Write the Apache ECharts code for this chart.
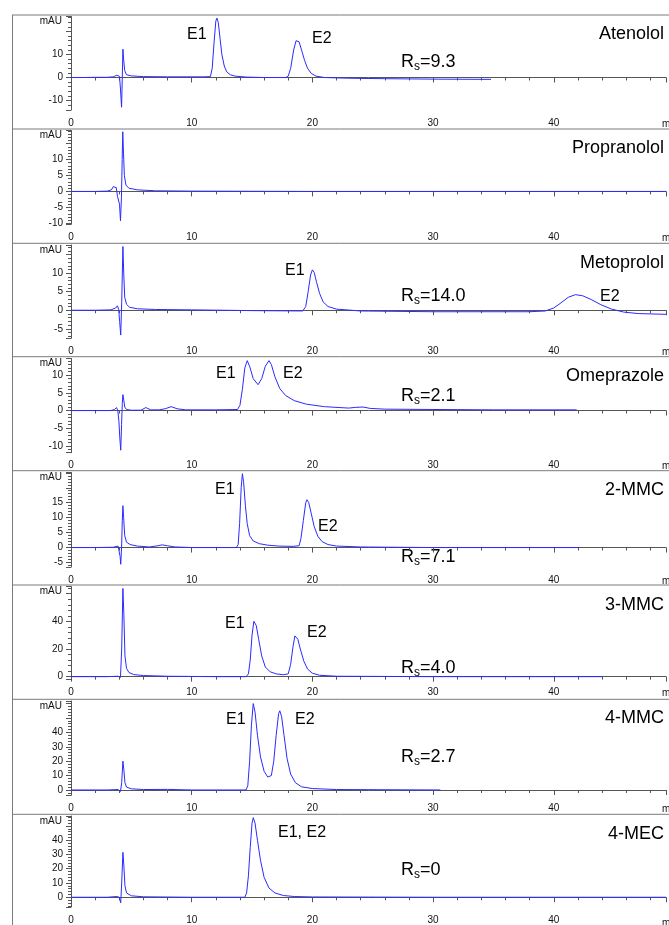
<!DOCTYPE html>
<html><head><meta charset="utf-8">
<script src="https://cdn.jsdelivr.net/npm/echarts@6/dist/echarts.min.js"></script>
<style>html,body{margin:0;padding:0;background:#fff}#c{width:669px;height:925px}</style>
</head><body><div id="c"></div>
<script>
// ---------------- data ----------------
const compounds = ['Atenolol','Propranolol','Metoprolol','Omeprazole','2-MMC','3-MMC','4-MMC','4-MEC'];
const resolutions = ['9.3', null, '14.0', '2.1', '7.1', '4.0', '2.7', '0'];
const xTickLabels = [0, 10, 20, 30, 40];
const yTickLabels = [
  [-10, 0, 10],
  [-10, -5, 0, 5, 10],
  [-5, 0, 5, 10],
  [-10, -5, 0, 5, 10],
  [-5, 0, 5, 10, 15],
  [0, 20, 40],
  [0, 10, 20, 30, 40],
  [0, 10, 20, 30, 40]
];
const atenolol = [[0,0],[1,0],[2,0.1],[3,0.1],[3.5,0.3],[3.8,1],[3.92,1.6],[4.02,0.5],[4.1,-5],[4.19,-12.9],[4.25,0],[4.3,12.3],[4.36,8],[4.45,3],[4.6,1.2],[5,0.7],[6,0.4],[8,0.3],[11,0.3],[11.55,0.4],[11.7,4],[11.85,15],[12.0,24.5],[12.09,25.8],[12.2,24],[12.35,17],[12.5,10],[12.7,5],[12.9,2.5],[13.2,1.2],[13.6,0.6],[14.5,0.2],[16,0],[17.8,0],[18.0,0.6],[18.2,4],[18.45,12],[18.65,16],[18.75,16.4],[18.9,15.5],[19.1,12],[19.35,7.5],[19.6,4],[19.9,1.8],[20.3,0.6],[21,0],[23,-0.3],[26,-0.5],[30,-0.7],[34.8,-0.8]];
const propranolol = [[0,0],[2,0],[3,0.1],[3.35,0.5],[3.5,1.5],[3.63,1.8],[3.75,1.2],[3.85,-1.5],[3.95,-3],[4.02,-4],[4.1,-9.2],[4.18,-2],[4.24,10],[4.29,18.7],[4.35,12],[4.42,5],[4.55,2],[4.8,1],[5.5,0.5],[7,0.2],[10,0.1],[20,0],[30,0],[40,0],[49.3,0]];
const metoprolol = [[0,0],[2,0],[3.3,0.1],[3.7,0.6],[3.85,1.2],[3.95,0.2],[4.03,-3],[4.12,-6.7],[4.2,2],[4.3,17.2],[4.37,10],[4.45,3.5],[4.6,1.6],[4.85,0.8],[5.5,0.4],[7,0.2],[10,0.1],[15,-0.1],[19.2,-0.2],[19.45,1],[19.65,5],[19.85,9.5],[20.0,10.9],[20.15,10.2],[20.35,7.5],[20.6,4.5],[20.9,2.2],[21.3,1],[22,0.3],[24,-0.2],[30,-0.4],[38,-0.4],[39.3,-0.2],[40,0.6],[40.6,2],[41.2,3.5],[41.8,4.2],[42.4,3.9],[43.1,2.9],[43.9,1.5],[44.8,0.3],[45.8,-0.5],[47,-0.9],[49.3,-1.1]];
const omeprazole = [[0,0],[2,0],[3.3,0],[3.6,0.3],[3.77,0.85],[3.88,0],[3.97,-3],[4.05,-8],[4.12,-11.2],[4.19,-4],[4.25,2],[4.3,4.5],[4.37,3],[4.45,1],[4.6,0.3],[5,0.1],[5.8,0.1],[6.2,0.85],[6.6,0.2],[7.3,0.2],[7.8,0.5],[8.3,1.1],[8.8,0.5],[9.5,0.2],[12,0.2],[13.8,0.3],[14.0,1.5],[14.2,6],[14.4,12],[14.6,14.1],[14.8,12.5],[15.1,9],[15.5,7.3],[15.8,9],[16.1,12.5],[16.4,14.1],[16.6,13],[16.9,9.5],[17.3,6.2],[17.8,4.2],[18.5,2.8],[19.5,1.8],[21,1.1],[23,0.7],[23.6,0.9],[24.2,1],[24.8,0.6],[26,0.4],[30,0.3],[35,0.2],[41.9,0.2]];
const mmc2 = [[0,0],[2,0],[3.5,0.1],[3.9,0.5],[4.0,0],[4.07,-3],[4.12,-5.6],[4.19,0],[4.25,9],[4.3,14],[4.36,10],[4.45,4],[4.6,1.8],[4.9,1],[5.5,0.5],[6.5,0.2],[7.2,0.6],[7.56,0.9],[8,0.6],[8.6,0.2],[10,0],[13.7,0],[13.85,1],[13.97,8],[14.1,20],[14.2,24.7],[14.3,22],[14.45,14],[14.6,8],[14.8,4],[15.1,2.2],[15.6,1.3],[16.3,0.8],[17.2,0.5],[18.4,0.4],[18.9,0.6],[19.05,3],[19.25,9],[19.45,15],[19.55,16],[19.7,15],[19.9,11.5],[20.15,7],[20.45,3.8],[20.8,2],[21.3,1],[22,0.5],[24,0.2],[30,0],[42.1,0]];
const mmc3 = [[0,0],[3,0],[3.9,0.3],[4.1,-0.5],[4.2,20],[4.3,63.8],[4.38,45],[4.47,15],[4.6,6],[4.8,3],[5.2,1.5],[6,0.8],[8,0.3],[12,0],[14.5,0],[14.7,2],[14.85,12],[15.0,30],[15.15,40],[15.2,40.5],[15.35,37],[15.55,27],[15.8,15],[16.1,7],[16.5,3.5],[17,2],[17.6,1.4],[18.0,2],[18.2,9],[18.4,22],[18.55,29.5],[18.65,30],[18.8,27],[19.0,20],[19.3,11],[19.6,5.5],[20,2.5],[20.6,1],[22,0.3],[30,0],[44,0]];
const mmc4 = [[0,0],[3,0],[3.9,0.3],[4.1,-1],[4.2,5],[4.3,20],[4.38,14],[4.47,5],[4.6,2],[5,0.8],[6,0.3],[8,0.4],[10,0],[14.5,0],[14.65,3],[14.8,20],[14.95,45],[15.1,60],[15.25,54],[15.45,38],[15.7,23],[16.0,13],[16.3,9],[16.6,10],[16.8,20],[17.0,38],[17.2,53],[17.3,55],[17.45,51],[17.65,38],[17.9,22],[18.2,11],[18.6,5],[19.1,2.2],[20,1],[22,0.3],[30.6,0]];
const mec4 = [[0,0],[3,0],[3.8,0.5],[4.0,0],[4.12,-3.9],[4.2,10],[4.3,31.5],[4.38,22],[4.47,8],[4.6,3],[5,1],[6,0.3],[10,0],[14.4,0],[14.55,3],[14.7,15],[14.85,35],[15.0,52],[15.1,55.8],[15.25,52],[15.45,40],[15.7,26],[16.0,14],[16.4,6.5],[16.9,3],[17.6,1.2],[18.5,0.5],[20,0.2],[30,0],[49.3,0]];
const traces = [atenolol, propranolol, metoprolol, omeprazole, mmc2, mmc3, mmc4, mec4];

// ---------------- layout ----------------
const panelTops = [15, 129, 243.3, 356.7, 470.7, 585, 699.3, 814.3];
const axisFrames = [ // [gridTop, gridBottomY, yMin, yMax, major]
  [16.5, 110, -14.1, 26.5, 10],
  [130.5, 224.3, -10.3, 19.1, 5],
  [245, 338.3, -7.57, 17.6, 5],
  [358.5, 452.7, -11.9, 14.7, 5],
  [472.5, 567, -6.5, 25.1, 5],
  [586.5, 679, -1.7, 65.2, 20],
  [701, 795.3, -3.7, 61.8, 10],
  [816, 909.3, -6.85, 57, 10]
];
const X0 = 71, XMAX = 49.3;
const FONT = '"Liberation Sans", Arial, Helvetica, sans-serif';
const labelsLayout = [ // per panel: [text, x, y]
  [['E1',187,35],['E2',312,39]],
  [],
  [['E1',285,271],['E2',600,297]],
  [['E1',216,374],['E2',283,374]],
  [['E1',215,490],['E2',318,527]],
  [['E1',225,624],['E2',307,633]],
  [['E1',226,720],['E2',295,720]],
  [['E1, E2',278,833]]
];
const namesY = [34, 148, 263, 376, 490, 605, 718, 834];
const rsY = [62, null, 296, 396, 557, 668, 757, 870];

const grids = [], xAxes = [], yAxes = [], series = [], graphics = [];
for (let i = 0; i < 8; i++) {
  const [gt, gb, ymin, ymax, major] = axisFrames[i];
  grids.push({left: X0, right: 0, top: gt, height: gb - gt, containLabel: false});
  xAxes.push({
    type: 'value', gridIndex: i, min: 0, max: XMAX, minInterval: 10, maxInterval: 10,
    axisLine: {lineStyle: {color: '#555', width: 1}},
    axisTick: {show: true, length: 5, lineStyle: {color: '#555'}},
    minorTick: {show: true, splitNumber: 5, length: 3, lineStyle: {color: '#555'}},
    splitLine: {show: false},
    axisLabel: {fontSize: 10, color: '#111', fontFamily: FONT, margin: 8,
      formatter: v => xTickLabels.indexOf(v) >= 0 ? String(v) : ''}
  });
  const labs = yTickLabels[i];
  yAxes.push({
    type: 'value', gridIndex: i, min: ymin, max: ymax, minInterval: major, maxInterval: major,
    axisLine: {show: true, lineStyle: {color: '#555', width: 1}},
    axisTick: {show: true, length: 5, lineStyle: {color: '#555'}},
    minorTick: {show: true, splitNumber: 5, length: 3, lineStyle: {color: '#555'}},
    splitLine: {show: false},
    axisLabel: {fontSize: 10, color: '#111', fontFamily: FONT, margin: 8,
      formatter: v => labs.indexOf(v) >= 0 ? String(v) : ''}
  });
  series.push({
    type: 'line', xAxisIndex: i, yAxisIndex: i, data: traces[i], showSymbol: false,
    symbol: 'none', smooth: false, animation: false, silent: true,
    lineStyle: {color: '#2b2bff', width: 1}
  });
  if (i > 0) graphics.push({type: 'line', shape: {x1: 12, y1: panelTops[i], x2: 669, y2: panelTops[i]},
    style: {stroke: '#7a7a7a', lineWidth: 1}, silent: true});
  graphics.push({type: 'text', x: 62, y: panelTops[i] + 6.7,
    style: {text: 'mAU', font: '10px ' + FONT, fill: '#111', align: 'right', verticalAlign: 'middle'}});
  graphics.push({type: 'text', x: 662, y: gb + 14,
    style: {text: 'min', font: '10px ' + FONT, fill: '#111', align: 'left', verticalAlign: 'middle'}});
  graphics.push({type: 'text', x: 664, y: namesY[i],
    style: {text: compounds[i], font: '18px ' + FONT, fill: '#000', align: 'right', verticalAlign: 'middle'}});
  labelsLayout[i].forEach(l => graphics.push({type: 'text', x: l[1], y: l[2],
    style: {text: l[0], font: '16px ' + FONT, fill: '#000', align: 'left', verticalAlign: 'middle'}}));
  if (resolutions[i] !== null) {
    graphics.push({type: 'text', x: 401, y: rsY[i],
      style: {text: '{a|R}{b|s}{a|=' + resolutions[i] + '}', align: 'left', verticalAlign: 'middle',
        rich: {a: {fontSize: 18, fontFamily: FONT, color: '#000', lineHeight: 22},
               b: {fontSize: 12, fontFamily: FONT, color: '#000', lineHeight: 12, verticalAlign: 'bottom'}}}});
  }
}
graphics.push({type: 'line', shape: {x1: 12, y1: 15, x2: 669, y2: 15}, style: {stroke: '#7a7a7a', lineWidth: 1}});
graphics.push({type: 'line', shape: {x1: 12.5, y1: 15, x2: 12.5, y2: 925}, style: {stroke: '#7a7a7a', lineWidth: 1}});

const chart = echarts.init(document.getElementById('c'), null, {renderer: 'canvas'});
chart.setOption({
  animation: false, backgroundColor: '#fff',
  grid: grids, xAxis: xAxes, yAxis: yAxes, series: series, graphic: graphics
});
</script></body></html>
